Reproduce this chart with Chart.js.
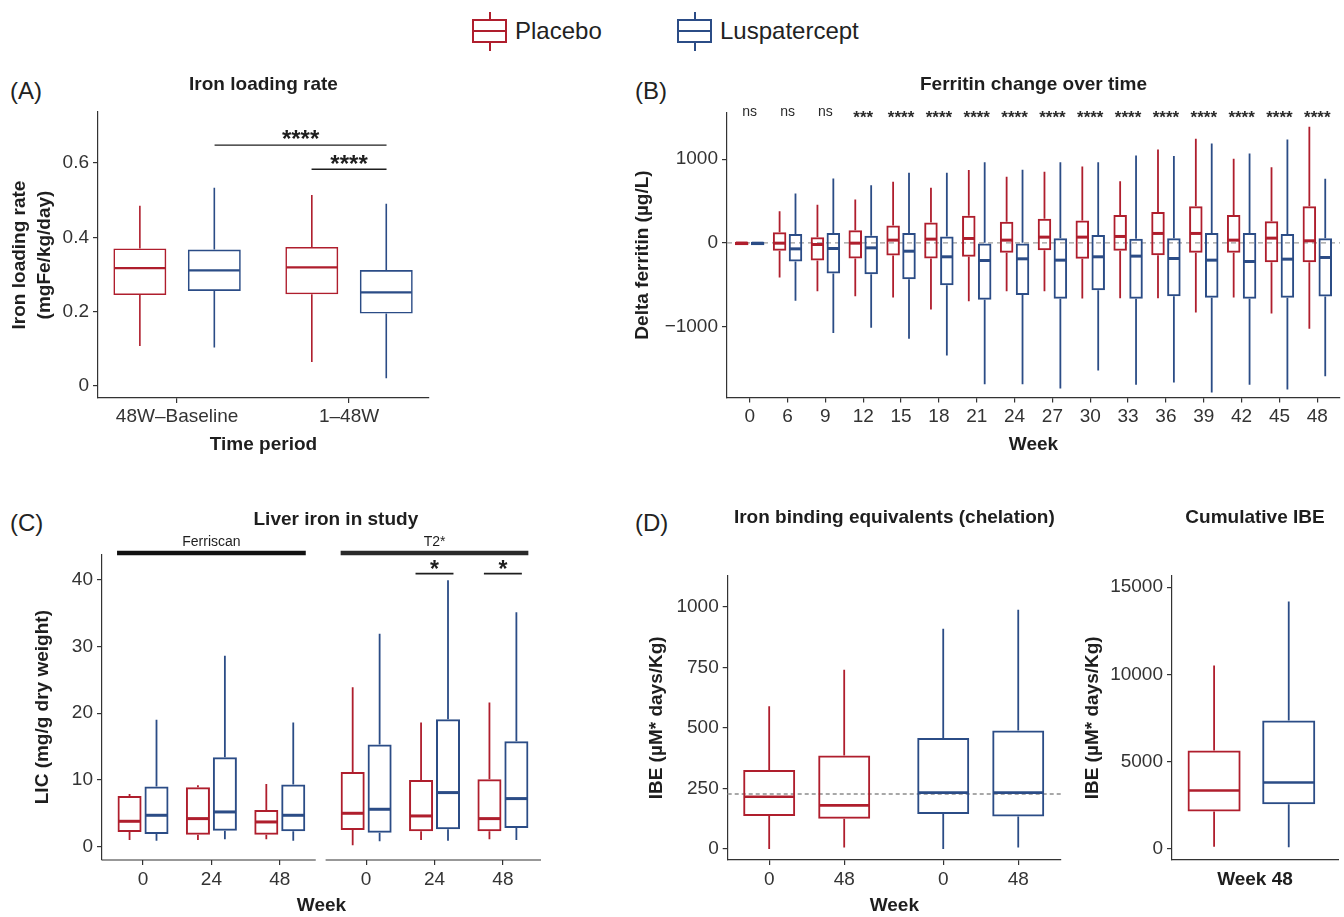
<!DOCTYPE html>
<html>
<head>
<meta charset="utf-8">
<title>Iron outcomes</title>
<script src="https://cdn.jsdelivr.net/npm/chart.js@4.4.1/dist/chart.umd.min.js"></script>
<style>
  html, body { margin: 0; padding: 0; background: #fff; }
  body { position: relative; width: 1344px; height: 917px; overflow: hidden;
         font-family: "Liberation Sans", Arial, Helvetica, sans-serif; color: #222; }
  canvas { position: absolute; }
  .tag { position: absolute; font-size: 24px; line-height: 24px; color: #222; }
  .key { position: absolute; top: 12px; width: 35px; height: 39px; }
  .key .stem { position: absolute; left: 16.5px; top: 0; width: 2px; height: 39px; background: currentColor; }
  .key .box { position: absolute; left: 0; top: 7px; width: 31px; height: 20px; border: 2px solid currentColor; background: #fff; }
  .key .box::after { content: ""; position: absolute; left: 0; right: 0; top: 9px; height: 2px; background: currentColor; }
  .lab { position: absolute; top: 18px; font-size: 24px; line-height: 26px; color: #222; }
</style>
</head>
<body>
<div class="key" style="left:472px;color:#af1e2d"><div class="stem"></div><div class="box"></div></div>
<span class="lab" style="left:515px">Placebo</span>
<div class="key" style="left:677px;color:#2b4c86"><div class="stem"></div><div class="box"></div></div>
<span class="lab" style="left:720px">Luspatercept</span>

<div class="tag" style="left:10px;top:79px">(A)</div>
<div class="tag" style="left:635px;top:79px">(B)</div>
<div class="tag" style="left:10px;top:511px">(C)</div>
<div class="tag" style="left:635px;top:511px">(D)</div>

<canvas id="chartA" width="450" height="400" style="left:0;top:60px"></canvas>
<canvas id="chartB" width="714" height="400" style="left:630px;top:60px"></canvas>
<canvas id="chartC" width="560" height="427" style="left:0;top:490px"></canvas>
<canvas id="chartD1" width="450" height="427" style="left:630px;top:490px"></canvas>
<canvas id="chartD2" width="264" height="427" style="left:1080px;top:490px"></canvas>

<script>
const RED = "#af1e2d";
const BLUE = "#2b4c86";
const INK = "#1e1e1e";
const AXIS = "#333";
const FONT = "'Liberation Sans', Arial, Helvetica, sans-serif";

// box stats are [min, q1, median, q3, max]

// (A) iron loading rate
const periodLabels = ["48W\u2013Baseline", "1\u201348W"];
const ilrPlacebo = [[0.108, 0.245, 0.317, 0.370, 0.485], [0.065, 0.247, 0.319, 0.374, 0.514]];
const ilrLusp = [[0.104, 0.256, 0.311, 0.367, 0.533], [0.021, 0.195, 0.252, 0.312, 0.490]];
const ilrTicks = [0, 0.2, 0.4, 0.6];

// (B) ferritin change
const weekLabels = ["0", "6", "9", "12", "15", "18", "21", "24", "27", "30", "33", "36", "39", "42", "45", "48"];
const sigLabels = ["ns", "ns", "ns", "***", "****", "****", "****", "****", "****", "****", "****", "****", "****", "****", "****", "****"];
const ferPlacebo = [
  [-28, -28, -3, 14, 14],
  [-414, -96, -4, 127, 378],
  [-578, -211, -20, 68, 454],
  [-637, -187, -4, 151, 518],
  [-653, -151, 32, 207, 729],
  [-797, -187, 44, 243, 657],
  [-697, -167, 52, 323, 869],
  [-578, -120, 32, 251, 789],
  [-578, -88, 68, 287, 849],
  [-665, -191, 68, 267, 912],
  [-661, -96, 76, 331, 737],
  [-661, -147, 112, 367, 1116],
  [-833, -120, 112, 438, 1243],
  [-653, -120, 32, 331, 1004],
  [-845, -231, 56, 259, 904],
  [-1028, -231, 24, 438, 1386],
];
const ferLusp = [
  [-28, -28, -5, 12, 12],
  [-693, -223, -72, 104, 590],
  [-1076, -367, -68, 116, 769],
  [-1016, -375, -60, 84, 689],
  [-1147, -434, -100, 116, 837],
  [-1347, -506, -167, 76, 837],
  [-1689, -681, -211, 0, 964],
  [-1689, -622, -191, 0, 873],
  [-1741, -669, -207, 56, 964],
  [-1526, -566, -167, 92, 964],
  [-1697, -669, -159, 48, 1044],
  [-1669, -637, -187, 56, 1036],
  [-1789, -657, -207, 116, 1187],
  [-1697, -669, -223, 116, 1068],
  [-1753, -657, -195, 104, 1235],
  [-1594, -641, -175, 56, 765],
];
const ferTicks = [-1000, 0, 1000];

// (C) liver iron
const licWeekLabels = ["0", "24", "48", "0", "24", "48"];
const licMethods = ["Ferriscan", "T2*"];
const licPlacebo = [
  [1.0, 2.2, 3.8, 7.6, 7.9], [1.0, 1.8, 4.2, 8.9, 9.2], [1.1, 1.8, 3.7, 5.5, 9.4],
  [0.2, 2.5, 5.0, 11.2, 23.9], [1.0, 2.3, 4.6, 10.0, 18.6], [1.1, 2.3, 4.2, 10.1, 21.6],
];
const licLusp = [
  [0.9, 1.9, 4.7, 9.0, 19.0], [1.1, 2.4, 5.2, 13.4, 28.6], [0.9, 2.3, 4.7, 9.3, 18.6],
  [0.8, 2.1, 5.6, 15.3, 31.9], [0.9, 2.6, 8.1, 19.1, 39.9], [1.0, 2.8, 7.2, 15.8, 35.1],
];
const licTicks = [0, 10, 20, 30, 40];

// (D) iron binding equivalents
const ibeWeekLabels = ["0", "48", "0", "48"];
const ibePlacebo = [[0, 136, 216, 326, 590], [6, 125, 180, 386, 740]];
const ibeLusp = [[0, 145, 233, 459, 910], [6, 134, 233, 489, 988]];
const ibeRef = 227;
const ibeTicks = [0, 250, 500, 750, 1000];
const cumPlacebo = [134, 2143, 3348, 5644, 10503];
const cumLusp = [96, 2564, 3807, 7366, 14177];
const cumTicks = [0, 5000, 10000, 15000];

Chart.defaults.font.family = FONT;
Chart.defaults.color = AXIS;
Chart.defaults.animation = false;
Chart.defaults.plugins.legend.display = false;
Chart.defaults.plugins.tooltip.enabled = false;

// whiskers + median on top of the floating bars
const boxPlot = {
  id: "boxPlot",
  afterDatasetsDraw(chart) {
    const ctx = chart.ctx;
    const y = chart.scales.y;
    chart.data.datasets.forEach((ds, i) => {
      chart.getDatasetMeta(i).data.forEach((bar, j) => {
        const s = ds.stats[j];
        const { x, width } = bar.getProps(["x", "width"], true);
        const col = Array.isArray(ds.borderColor) ? ds.borderColor[j] : ds.borderColor;
        const py = (v) => y.getPixelForValue(v);
        ctx.save();
        ctx.strokeStyle = col;
        ctx.lineWidth = ds.whiskerWidth;
        ctx.beginPath();
        ctx.moveTo(x, py(s[3]));
        ctx.lineTo(x, py(s[4]));
        ctx.moveTo(x, py(s[1]));
        ctx.lineTo(x, py(s[0]));
        ctx.stroke();
        ctx.lineWidth = ds.medianWidth;
        ctx.beginPath();
        ctx.moveTo(x - width / 2 + 1, py(s[2]));
        ctx.lineTo(x + width / 2 - 1, py(s[2]));
        ctx.stroke();
        ctx.restore();
      });
    });
  },
};
Chart.register(boxPlot);

// reference lines, brackets and labels in data units
function extras(spec) {
  return {
    id: "extras",
    beforeDatasetsDraw(chart) {
      if (!spec.ref) return;
      const { ctx, chartArea, scales } = chart;
      const py = scales.y.getPixelForValue(spec.ref.value);
      ctx.save();
      ctx.strokeStyle = spec.ref.color;
      ctx.lineWidth = spec.ref.width;
      ctx.setLineDash(spec.ref.dash);
      ctx.beginPath();
      ctx.moveTo(chartArea.left, py);
      ctx.lineTo(chartArea.right, py);
      ctx.stroke();
      ctx.restore();
    },
    afterDraw(chart) {
      const { ctx, scales: { x, y } } = chart;
      (spec.lines || []).forEach((l) => {
        const py = y.getPixelForValue(l.y);
        ctx.save();
        ctx.strokeStyle = l.color || INK;
        ctx.lineWidth = l.width || 1.3;
        ctx.beginPath();
        ctx.moveTo(x.getPixelForValue(l.x1), py);
        ctx.lineTo(x.getPixelForValue(l.x2), py);
        ctx.stroke();
        ctx.restore();
      });
      (spec.texts || []).forEach((t) => {
        ctx.save();
        ctx.fillStyle = t.color || INK;
        ctx.font = t.font;
        ctx.textAlign = "center";
        ctx.textBaseline = "alphabetic";
        ctx.fillText(t.text, x.getPixelForValue(t.x), y.getPixelForValue(t.y) + (t.dy || 0));
        ctx.restore();
      });
    },
  };
}

function boxSet(stats, xs, color, st) {
  return {
    stats: stats,
    data: stats.map((s, i) => ({ x: xs[i], y: [s[1], s[3]] })),
    backgroundColor: "rgba(0,0,0,0)",
    borderColor: color,
    borderWidth: st.bw,
    borderSkipped: false,
    categoryPercentage: st.cat,
    barPercentage: st.bar,
    medianWidth: st.mw,
    whiskerWidth: st.ww,
  };
}

const tickGrid = { display: true, drawOnChartArea: false, drawTicks: true, tickLength: 5, color: AXIS, lineWidth: 1.2, offset: false };

function xScale(o) {
  const show = o.labels != null;
  return {
    type: "linear", min: o.min, max: o.max, offset: false,
    afterBuildTicks: (s) => { s.ticks = o.pos.map((v) => ({ value: v })); },
    afterFit: (s) => { s.height = o.height; },
    ticks: {
      display: show, autoSkip: false, maxRotation: 0, minRotation: 0,
      callback: (v, i) => (show ? o.labels[i] : ""),
      padding: o.tickPad, color: AXIS, font: { size: 19 },
    },
    grid: show ? tickGrid : { display: false, drawTicks: false, offset: false },
    border: { display: o.border !== false, color: AXIS, width: 1.2 },
    title: {
      display: true, text: o.title, color: INK,
      font: { size: 19, weight: "bold", lineHeight: 1.2 },
      padding: { top: 0, bottom: o.titlePad },
    },
  };
}

function yScale(o) {
  return {
    type: "linear", min: o.min, max: o.max, stacked: false,
    afterBuildTicks: (s) => { s.ticks = o.ticks.map((v) => ({ value: v })); },
    afterFit: (s) => { s.width = o.width; },
    ticks: { callback: o.fmt || ((v) => String(v)), padding: 4, color: AXIS, font: { size: 19 } },
    grid: tickGrid,
    border: { display: true, color: AXIS, width: 1.2 },
    title: {
      display: true, text: o.title, color: INK,
      font: { size: 19, weight: "bold", lineHeight: o.lh || 1.2 },
      padding: { top: o.titlePad, bottom: 0 },
    },
  };
}

function boxChart(id, o) {
  const hasTitle = o.title != null;
  return new Chart(document.getElementById(id), {
    type: "bar",
    data: { datasets: o.datasets },
    options: {
      responsive: false,
      devicePixelRatio: 1,
      layout: { autoPadding: false, padding: { left: 0, top: hasTitle ? 0 : o.padTop, bottom: 0, right: o.padRight } },
      plugins: {
        title: {
          display: hasTitle, text: o.title || "", fullSize: false, color: INK,
          font: { size: 19, weight: "bold", lineHeight: 1.2 },
          padding: { top: o.titleTop || 0, bottom: o.titleBottom || 0 },
        },
      },
      scales: { x: o.x, y: o.y },
    },
    plugins: [extras(o.extras || {})],
  });
}

// ---------- (A) ----------
const posA = [1, 2];
const dA = 0.218;
const stA = { bw: 1.6, mw: 2.2, ww: 1.6, cat: 0.866, bar: 0.711 };
boxChart("chartA", {
  title: "Iron loading rate", titleTop: 13.6, titleBottom: 15.6, padRight: 21,
  datasets: [boxSet(ilrPlacebo, posA, RED, stA), boxSet(ilrLusp, posA, BLUE, stA)],
  x: xScale({ pos: posA, labels: periodLabels, min: 0.54, max: 2.465, height: 62, tickPad: 2.6, title: "Time period", titlePad: 3.6 }),
  y: yScale({
    ticks: ilrTicks, min: -0.032, max: 0.737, width: 98, lh: 1.316, titlePad: 7.5,
    title: ["Iron loading rate", "(mgFe/kg/day)"],
    fmt: (v) => (v === 0 ? "0" : v.toFixed(1)),
  }),
  extras: {
    lines: [
      { x1: posA[0] + dA, x2: posA[1] + dA, y: 0.648, width: 1.3 },
      { x1: posA[1] - dA, x2: posA[1] + dA, y: 0.583, width: 1.3 },
    ],
    texts: [
      { x: (posA[0] + posA[1]) / 2 + dA, y: 0.648, dy: 1.5, text: "****", font: "bold 24px " + FONT },
      { x: posA[1], y: 0.583, dy: 3, text: "****", font: "bold 24px " + FONT },
    ],
  },
});

// ---------- (B) ----------
const posB = weekLabels.map((w, i) => i + 1);
const stB = { bw: 2, mw: 3, ww: 1.8, cat: 0.84, bar: 0.85 };
boxChart("chartB", {
  title: "Ferritin change over time", titleTop: 13.6, titleBottom: 16.1, padRight: 4,
  datasets: [boxSet(ferPlacebo, posB, RED, stB), boxSet(ferLusp, posB, BLUE, stB)],
  x: xScale({ pos: posB, labels: weekLabels, min: 0.4, max: 16.6, height: 62.5, tickPad: 2.6, title: "Week", titlePad: 3.6 }),
  y: yScale({
    ticks: ferTicks, min: -1848, max: 1557, width: 97, titlePad: 1.6,
    title: "Delta ferritin (\u00b5g/L)",
    fmt: (v) => (v < 0 ? "\u2212" + Math.abs(v) : String(v)),
  }),
  extras: {
    ref: { value: 0, color: "#9a9a9a", dash: [5, 4], width: 1.2 },
    texts: sigLabels.map((s, i) => ({
      x: posB[i], y: 1550, text: s,
      dy: s === "ns" ? 3.4 : 9.5,
      font: s === "ns" ? "14px " + FONT : "bold 17px " + FONT,
      color: "#2a2a2a",
    })),
  },
});

// ---------- (C) ----------
// title sits over the whole figure (both method groups), so it is placed in data units
const posC = [1, 2, 3, 4.263, 5.263, 6.263];
const stC = { bw: 2, mw: 3, ww: 1.8, cat: 0.788, bar: 0.892 };
const yMinC = -2.0;
boxChart("chartC", {
  title: null, padTop: 64.3, padRight: 19,
  datasets: [boxSet(licPlacebo, posC, RED, stC), boxSet(licLusp, posC, BLUE, stC)],
  x: xScale({ pos: posC, labels: licWeekLabels, min: 0.4, max: 6.82, height: 57, tickPad: 3.6, title: "Week", titlePad: 0, border: false }),
  y: yScale({ ticks: licTicks, min: yMinC, max: 43.8, width: 102, titlePad: 31.6, title: "LIC (mg/g dry weight)" }),
  extras: {
    lines: [
      { x1: 0.4, x2: 3.526, y: yMinC, width: 1.2, color: AXIS },
      { x1: 3.67, x2: 6.82, y: yMinC, width: 1.2, color: AXIS },
      { x1: 0.62, x2: 3.38, y: 44.0, width: 4.5, color: "#111" },
      { x1: 3.89, x2: 6.635, y: 44.0, width: 4.5, color: "#2a2a2a" },
      { x1: 4.985, x2: 5.54, y: 40.9, width: 1.6 },
      { x1: 5.985, x2: 6.54, y: 40.9, width: 1.6 },
    ],
    texts: [
      { x: 3.82, y: 48.15, text: "Liver iron in study", font: "bold 19px " + FONT },
      { x: posC[1], y: 45.0, text: licMethods[0], font: "14px " + FONT },
      { x: posC[4], y: 45.0, text: licMethods[1], font: "14px " + FONT },
      { x: posC[4], y: 40.9, dy: 3.6, text: "*", font: "bold 23px " + FONT },
      { x: posC[5], y: 40.9, dy: 3.6, text: "*", font: "bold 23px " + FONT },
    ],
  },
});

// ---------- (D) weekly IBE ----------
const posD = [1, 2, 3.32, 4.32];
const stD = { bw: 2, mw: 2.6, ww: 1.8, cat: 1, bar: 0.693 };
boxChart("chartD1", {
  title: "Iron binding equivalents (chelation)", titleTop: 16.6, titleBottom: 46.3, padRight: 19,
  datasets: [boxSet(ibePlacebo.concat(ibeLusp), posD, [RED, RED, BLUE, BLUE], stD)],
  x: xScale({ pos: posD, labels: ibeWeekLabels, min: 0.447, max: 4.89, height: 57, tickPad: 3.6, title: "Week", titlePad: 0 }),
  y: yScale({ ticks: ibeTicks, min: -45.5, max: 1129, width: 97.7, titlePad: 15.6, title: "IBE (\u00b5M* days/Kg)" }),
  extras: { ref: { value: ibeRef, color: "#a8a8a8", dash: [4, 3], width: 2 } },
});

// ---------- (D) cumulative IBE ----------
const posD2 = [1, 2];
const stD2 = { bw: 2, mw: 2.6, ww: 1.8, cat: 1, bar: 0.711 };
boxChart("chartD2", {
  title: "Cumulative IBE", titleTop: 16.6, titleBottom: 46.3, padRight: 6,
  datasets: [boxSet([cumPlacebo, cumLusp], posD2, [RED, BLUE], stD2)],
  x: xScale({ pos: posD2, labels: null, min: 0.436, max: 2.66, height: 57, tickPad: 0, title: "Week 48", titlePad: 25.6 }),
  y: yScale({ ticks: cumTicks, min: -630, max: 15653, width: 92, titlePad: 1.6, title: "IBE (\u00b5M* days/Kg)" }),
});
</script>
</body>
</html>
